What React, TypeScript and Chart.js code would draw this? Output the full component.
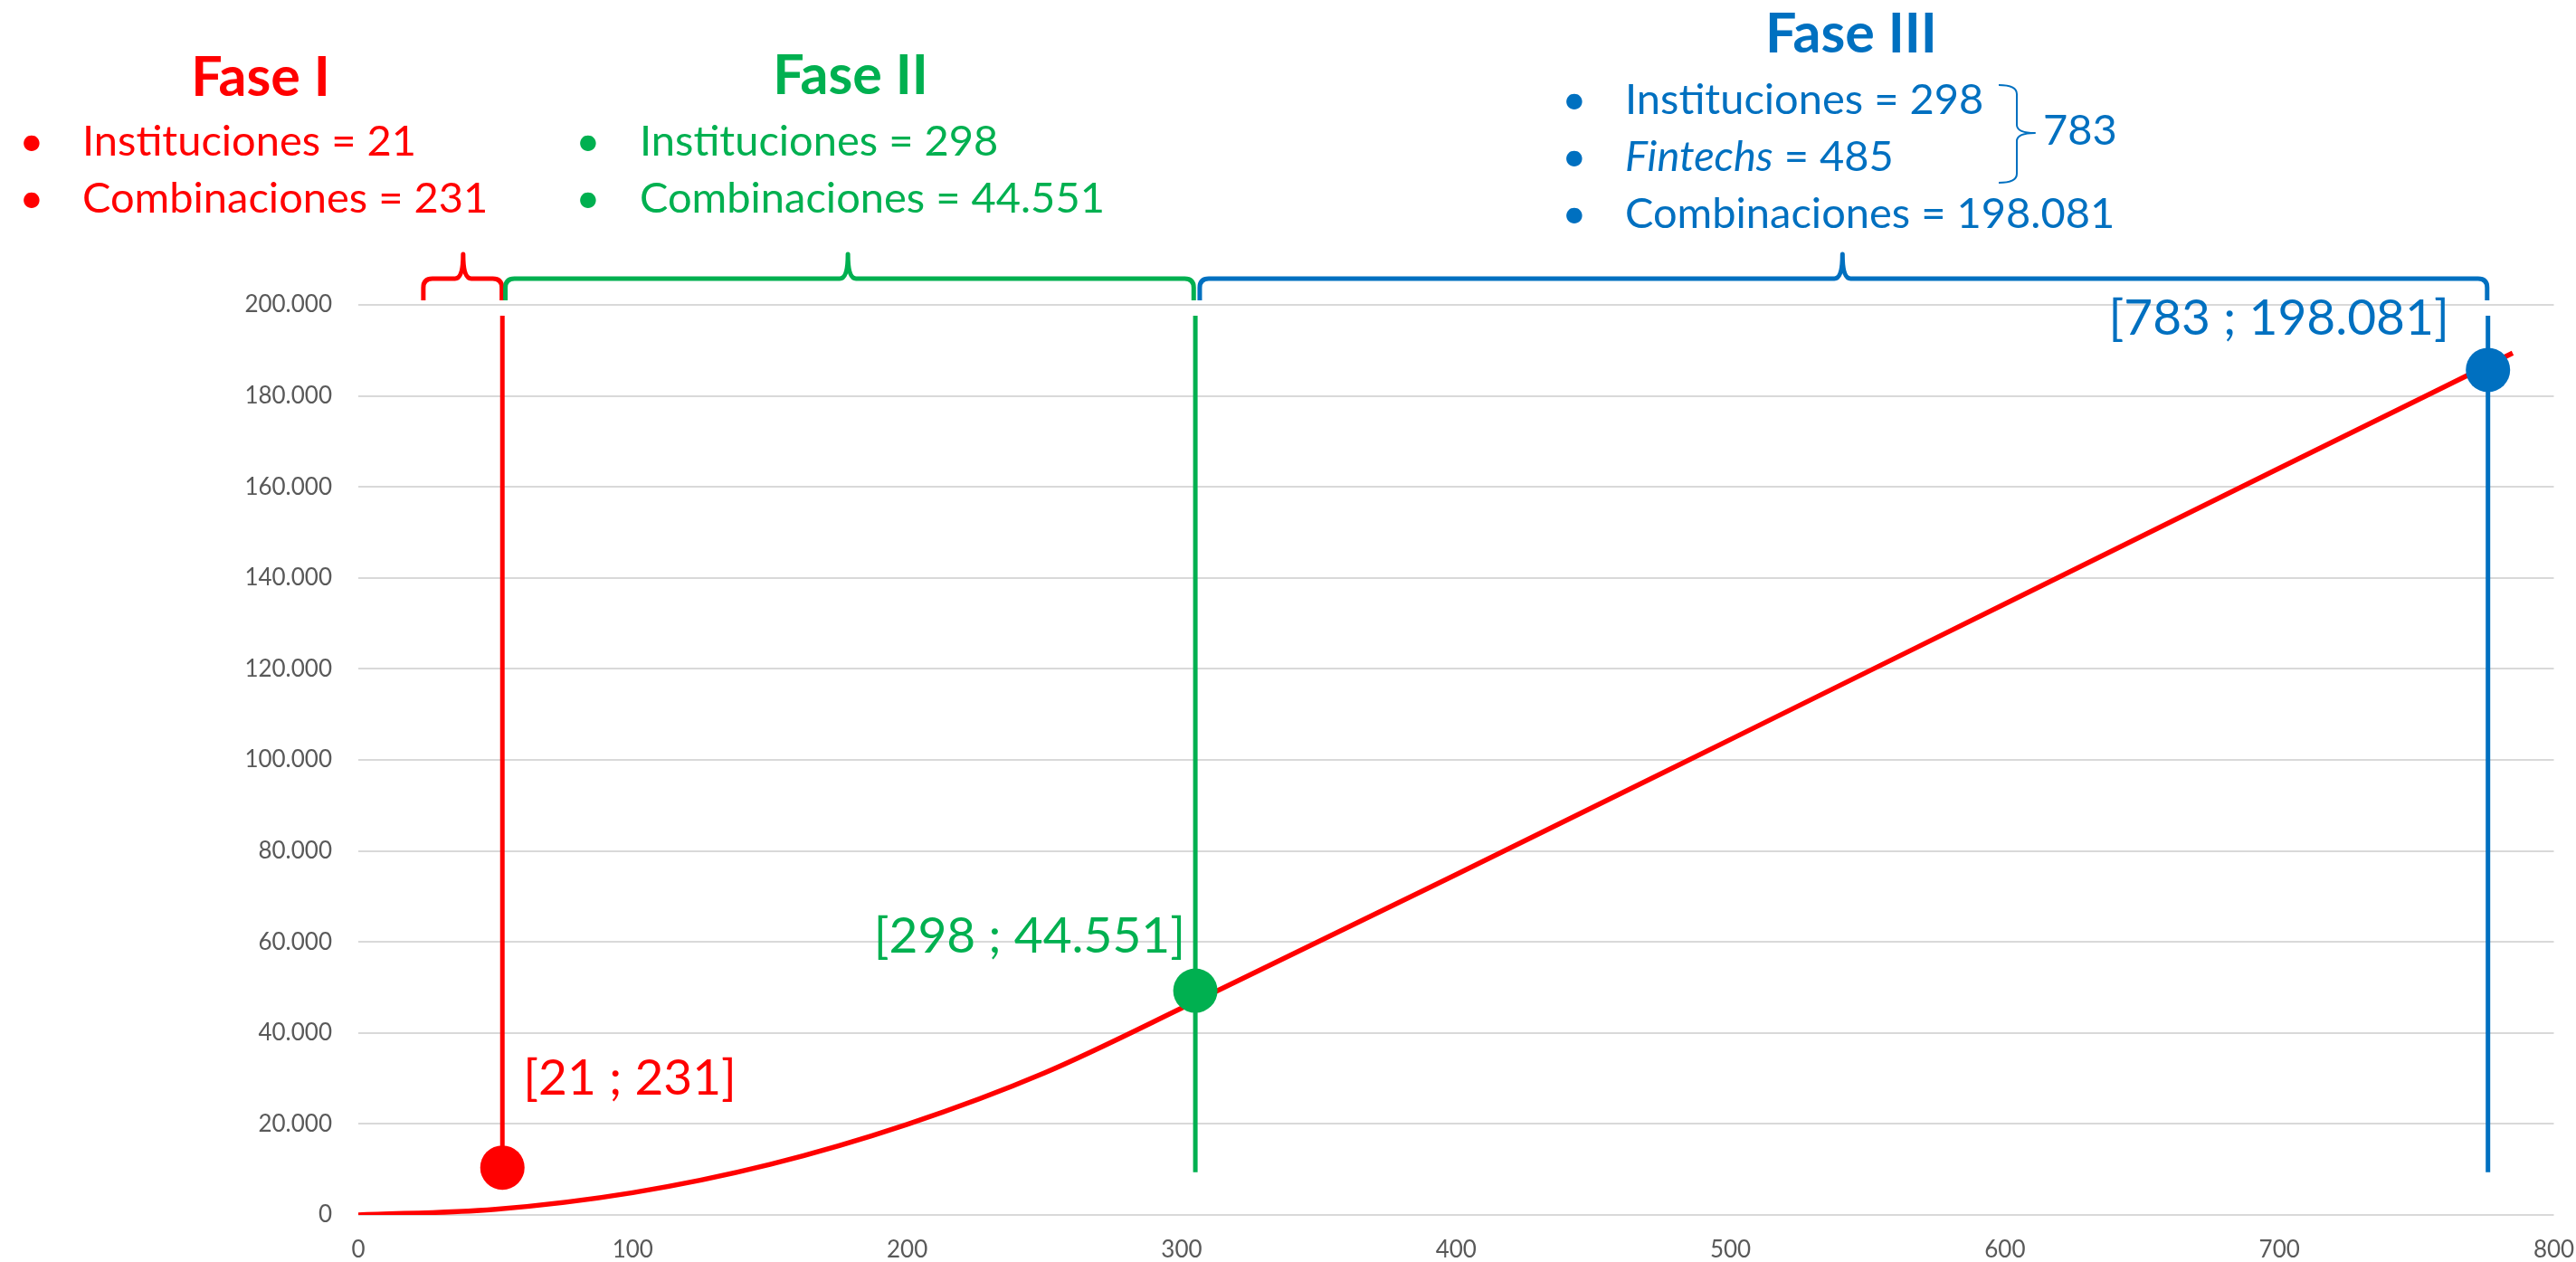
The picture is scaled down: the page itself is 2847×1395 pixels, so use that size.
import { useEffect, useRef } from "react";
import { Chart, registerables } from "chart.js";

Chart.register(...registerables);

// ---- Data ----
const curveX = [0, 50, 100, 150, 200, 250, 305, 400, 500, 600, 700, 785];
const curveY = [0, 1250, 4900, 11100, 19900, 31200, 46900, 74800, 104500, 134300, 164100, 189400];

const phaseNames = ["Fase I", "Fase II", "Fase III"];
const phaseColors = ["#FF0000", "#00B050", "#0070C0"];
const markerX = [52.5, 305, 776];
const markerY = [10400, 49300, 185700];
const markerLabels = ["[21 ; 231]", "[298 ; 44.551]", "[783 ; 198.081]"];
const guideTop = [197600, 197600, 197600];
const guideBottom = [10400, 9400, 9400];
const bracketStart = [23.7, 53.6, 306.6];
const bracketEnd = [52.3, 304.4, 775.7];
const bracketTip = [38.2, 178.4, 540.8];

const faseILines = ["Instituciones = 21", "Combinaciones = 231"];
const faseIILines = ["Instituciones = 298", "Combinaciones = 44.551"];
const faseIIILines = ["Instituciones = 298", "Fintechs", " = 485", "Combinaciones = 198.081"];
const faseIIITotal = "783";

const xMin = 0;
const xMax = 800;
const xStep = 100;
const yMin = 0;
const yMax = 200000;
const yStep = 20000;

const FONT = "Lato, 'Open Sans', sans-serif";

function fmtThousands(v: number): string {
  return Math.round(v)
    .toString()
    .replace(/\B(?=(\d{3})+(?!\d))/g, ".");
}

function drawBracket(
  ctx: CanvasRenderingContext2D,
  x1: number,
  x2: number,
  tip: number,
  yH: number,
  yB: number,
  yT: number,
  color: string
) {
  const r = 10;
  const s = 9;
  ctx.beginPath();
  ctx.moveTo(x1, yB);
  ctx.lineTo(x1, yH + r);
  ctx.quadraticCurveTo(x1, yH, x1 + r, yH);
  ctx.lineTo(tip - s, yH);
  ctx.quadraticCurveTo(tip, yH, tip, yT);
  ctx.quadraticCurveTo(tip, yH, tip + s, yH);
  ctx.lineTo(x2 - r, yH);
  ctx.quadraticCurveTo(x2, yH, x2, yH + r);
  ctx.lineTo(x2, yB);
  ctx.strokeStyle = color;
  ctx.lineWidth = 5;
  ctx.lineJoin = "round";
  ctx.lineCap = "butt";
  ctx.stroke();
}

function bulletLine(
  ctx: CanvasRenderingContext2D,
  bulletX: number,
  textX: number,
  baseline: number,
  text: string
) {
  ctx.textAlign = "center";
  ctx.fillText("•", bulletX, baseline);
  ctx.textAlign = "left";
  ctx.fillText(text, textX, baseline);
}

const overlayPlugin = {
  id: "overlay",
  afterDraw(chart: any) {
    const ctx: CanvasRenderingContext2D = chart.ctx;
    const xs = chart.scales.x;
    const ys = chart.scales.y;
    const top = chart.chartArea.top;
    ctx.save();

    // Brackets above the plot
    for (let i = 0; i < 3; i++) {
      drawBracket(
        ctx,
        xs.getPixelForValue(bracketStart[i]),
        xs.getPixelForValue(bracketEnd[i]),
        xs.getPixelForValue(bracketTip[i]),
        top - 29,
        top - 5,
        top - 56,
        phaseColors[i]
      );
    }

    // Point labels
    ctx.font = `55px ${FONT}`;
    ctx.textBaseline = "alphabetic";
    for (let i = 0; i < 3; i++) {
      const px = xs.getPixelForValue(markerX[i]);
      const py = ys.getPixelForValue(markerY[i]);
      ctx.fillStyle = phaseColors[i];
      if (i === 0) {
        ctx.textAlign = "left";
        ctx.fillText(markerLabels[i], px + 23, py - 81);
      } else if (i === 1) {
        ctx.textAlign = "right";
        ctx.fillText(markerLabels[i], px - 11, py - 42);
      } else {
        ctx.textAlign = "right";
        ctx.fillText(markerLabels[i], px - 43, py - 39);
      }
    }

    // Phase headers
    const titleFont = `bold 61px ${FONT}`;
    const itemFont = `47px ${FONT}`;

    // Fase I
    ctx.fillStyle = phaseColors[0];
    ctx.font = titleFont;
    ctx.textAlign = "center";
    ctx.fillText(phaseNames[0], 288, 106);
    ctx.font = itemFont;
    bulletLine(ctx, 35, 91, 172, faseILines[0]);
    bulletLine(ctx, 35, 91, 235, faseILines[1]);

    // Fase II
    ctx.fillStyle = phaseColors[1];
    ctx.font = titleFont;
    ctx.textAlign = "center";
    ctx.fillText(phaseNames[1], 940, 104);
    ctx.font = itemFont;
    bulletLine(ctx, 650, 707, 172, faseIILines[0]);
    bulletLine(ctx, 650, 707, 235, faseIILines[1]);

    // Fase III
    ctx.fillStyle = phaseColors[2];
    ctx.font = titleFont;
    ctx.textAlign = "center";
    ctx.fillText(phaseNames[2], 2046, 58);
    ctx.font = itemFont;
    bulletLine(ctx, 1740, 1796, 126, faseIIILines[0]);
    ctx.font = `italic 47px ${FONT}`;
    bulletLine(ctx, 1740, 1796, 189, faseIIILines[1]);
    const fw = ctx.measureText(faseIIILines[1]).width;
    ctx.font = itemFont;
    ctx.textAlign = "left";
    ctx.fillText(faseIIILines[2], 1796 + fw, 189);
    bulletLine(ctx, 1740, 1796, 252, faseIIILines[3]);

    // Small brace grouping 298 + 485
    ctx.strokeStyle = phaseColors[2];
    ctx.lineWidth = 2;
    ctx.beginPath();
    ctx.moveTo(2209, 94);
    ctx.quadraticCurveTo(2229, 94, 2229, 104);
    ctx.lineTo(2229, 138);
    ctx.quadraticCurveTo(2229, 147, 2249, 147);
    ctx.quadraticCurveTo(2229, 147, 2229, 156);
    ctx.lineTo(2229, 192);
    ctx.quadraticCurveTo(2229, 202, 2209, 202);
    ctx.stroke();
    ctx.textAlign = "left";
    ctx.fillText(faseIIITotal, 2258, 160);

    ctx.restore();
  },
};

export default function App() {
  const canvasRef = useRef<HTMLCanvasElement | null>(null);

  useEffect(() => {
    document.body.style.margin = "0";
    const canvas = canvasRef.current;
    if (!canvas) return;

    const curveData = curveX.map((x, i) => ({ x, y: curveY[i] }));
    const markerData = markerX.map((x, i) => ({ x, y: markerY[i] }));
    const guideSets = markerX.map((x, i) => ({
      label: `guia-${i}`,
      data: [
        { x, y: guideTop[i] },
        { x, y: guideBottom[i] },
      ],
      borderColor: phaseColors[i],
      borderWidth: 5,
      pointRadius: 0,
      fill: false,
    }));

    const chart = new Chart(canvas, {
      type: "line",
      data: {
        datasets: [
          {
            label: "puntos",
            data: markerData,
            showLine: false,
            pointRadius: 24.5,
            pointBorderWidth: 0,
            pointBackgroundColor: phaseColors,
            pointBorderColor: phaseColors,
          },
          ...guideSets,
          {
            label: "Combinaciones",
            data: curveData,
            borderColor: "#FF0000",
            borderWidth: 5.5,
            pointRadius: 0,
            cubicInterpolationMode: "monotone",
            fill: false,
          },
        ] as any,
      },
      options: {
        responsive: false,
        devicePixelRatio: 1,
        animation: false,
        parsing: true,
        layout: { padding: { top: 337, right: 0, bottom: 0, left: 0 } },
        plugins: {
          legend: { display: false },
          tooltip: { enabled: false },
        },
        scales: {
          x: {
            type: "linear",
            min: xMin,
            max: xMax,
            ticks: {
              stepSize: xStep,
              color: "#595959",
              font: { family: FONT, size: 26 },
              padding: 23,
              maxRotation: 0,
              autoSkip: false,
            },
            grid: { display: false, drawTicks: false },
            border: { display: false },
            afterFit: (s: any) => {
              s.height = 52;
              s.paddingRight = 21;
              s.paddingLeft = 0;
            },
          },
          y: {
            type: "linear",
            min: yMin,
            max: yMax,
            ticks: {
              stepSize: yStep,
              color: "#595959",
              font: { family: FONT, size: 26 },
              padding: 29,
              callback: (v: any) => fmtThousands(Number(v)),
            },
            grid: { color: "#d9d9d9", lineWidth: 2, drawTicks: false },
            border: { display: false },
            afterFit: (s: any) => {
              s.width = 396;
            },
          },
        },
      } as any,
      plugins: [overlayPlugin],
    });

    if ((document as any).fonts && (document as any).fonts.ready) {
      (document as any).fonts.ready.then(() => chart.draw());
    }

    return () => {
      chart.destroy();
    };
  }, []);

  return (
    <canvas
      ref={canvasRef}
      width={2847}
      height={1395}
      style={{ display: "block", width: 2847, height: 1395 }}
    />
  );
}
